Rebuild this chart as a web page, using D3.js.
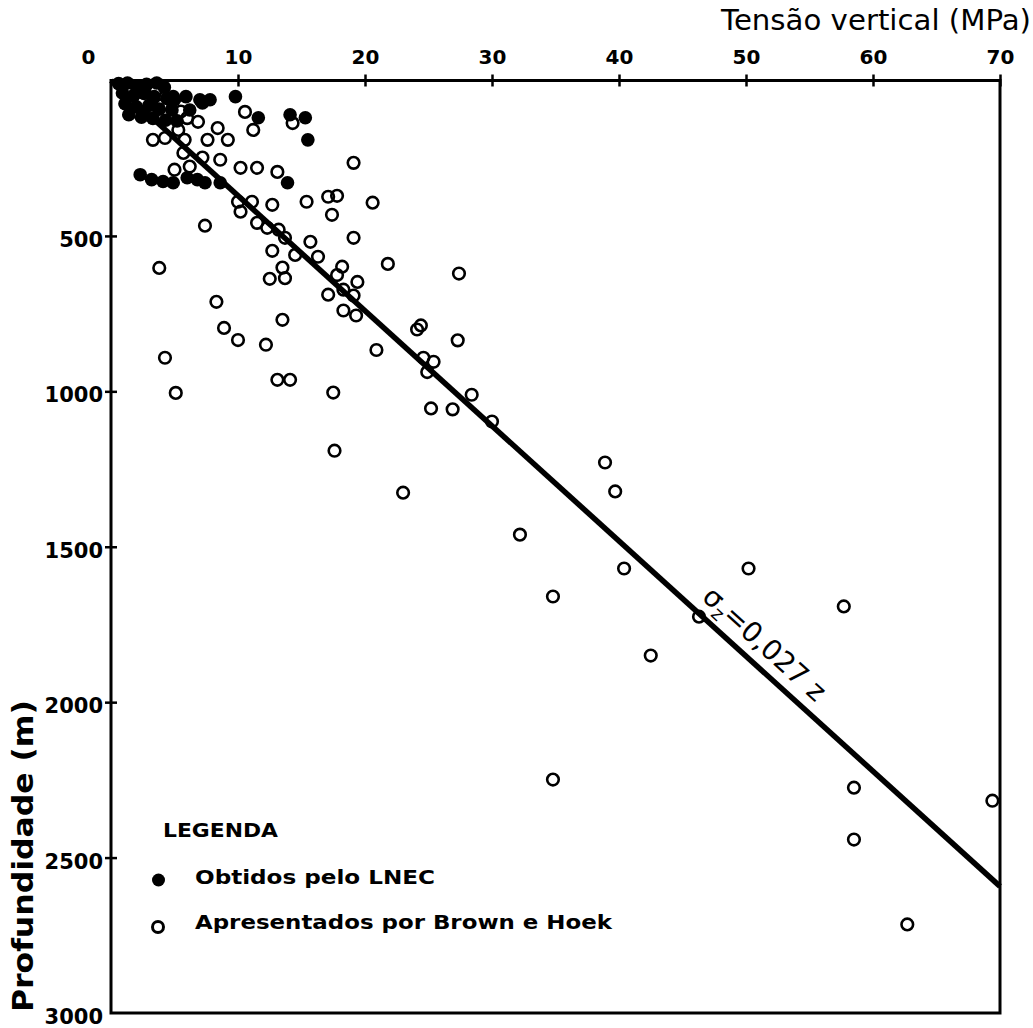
<html>
<head>
<meta charset="utf-8">
<style>
    body { margin: 0; background: #fff; }
    text { font-family: "DejaVu Sans", sans-serif; fill: #000; }
</style>
</head>
<body>
<svg id="container" width="1033" height="1028"></svg>
<script src="https://cdn.jsdelivr.net/npm/d3@7"></script>
<script>
// tick values of the two axes
const xTicks = [0, 10, 20, 30, 40, 50, 60, 70]
const yTicks = [500, 1000, 1500, 2000, 2500, 3000]

// [tensao (MPa), profundidade (m)]
const lnec = [
    [0.6, 10], [1.3, 8], [2.0, 20], [2.8, 12], [3.6, 8], [4.2, 22],
    [0.9, 40], [1.8, 48], [2.6, 42], [3.4, 52], [4.4, 58], [4.9, 52], [5.9, 52],
    [1.1, 75], [2.0, 85], [3.0, 80], [3.8, 92], [4.8, 95], [5.0, 62],
    [1.4, 110], [2.4, 118], [3.3, 122], [4.3, 128], [5.2, 130],
    [7.0, 62], [7.8, 62], [7.2, 72], [6.2, 95], [9.8, 52],
    [11.6, 120], [14.1, 110], [15.3, 120], [15.5, 191], [13.9, 329],
    [2.3, 303], [3.2, 319], [4.1, 325], [4.9, 329], [6.0, 313], [6.8, 319], [7.4, 329], [8.6, 329]
]

const brownHoek = [
    [1.5, 30], [2.5, 65], [3.5, 35], [1.8, 100], [3.0, 110], [4.0, 80], [5.5, 100],
    [10.55, 101], [11.2, 159], [14.3, 137], [6.85, 133], [6.0, 121], [8.4, 153],
    [7.6, 191], [9.2, 191], [3.3, 191], [4.25, 185], [5.3, 159], [5.8, 191],
    [5.7, 233], [7.2, 248], [8.6, 255], [10.2, 281], [11.5, 281], [13.1, 294],
    [5.0, 287], [6.2, 277], [19.1, 265], [15.4, 390], [17.1, 374], [17.8, 371],
    [17.4, 432], [20.6, 393], [10.0, 390], [11.1, 390], [10.2, 422], [12.7, 400],
    [11.5, 458], [12.3, 474], [13.2, 480], [13.7, 506], [7.4, 467], [15.7, 519],
    [19.1, 506], [12.7, 548], [14.5, 561], [16.3, 567], [21.8, 590], [18.2, 599],
    [13.5, 602], [12.5, 638], [13.7, 636], [17.8, 626], [19.4, 648], [18.3, 673],
    [17.1, 689], [19.1, 692], [18.3, 740], [19.3, 756],
    [3.8, 603], [4.25, 892], [5.1, 1005], [8.3, 712], [8.9, 796], [10.0, 835],
    [12.2, 850], [13.1, 963], [14.1, 963], [13.5, 770], [17.5, 1004], [17.6, 1191],
    [20.9, 867], [23.0, 1326], [24.4, 788], [24.1, 801], [24.6, 892], [25.4, 905],
    [24.9, 938], [25.2, 1055], [26.9, 1058], [27.3, 836], [27.4, 621], [28.4, 1011],
    [30.0, 1097], [32.2, 1461], [34.8, 1660], [34.8, 2249], [38.9, 1229], [39.7, 1322],
    [40.4, 1570], [42.5, 1850], [46.3, 1725], [50.2, 1570], [57.7, 1692], [58.5, 2275],
    [58.5, 2442], [62.7, 2715], [69.4, 2317]
]

// sigma_z = 0,027 z
const gradient = 0.027

let svg = d3.select("#container")

let x = d3.scaleLinear().domain([0, 70]).range([111, 1000])
let y = d3.scaleLinear().domain([0, 3000]).range([80.5, 1013])

// frame
svg.append("rect")
    .attr("x", x(0)).attr("y", y(0))
    .attr("width", x(70) - x(0)).attr("height", y(3000) - y(0))
    .attr("fill", "none").attr("stroke", "#000").attr("stroke-width", 3)

// top axis
let xAxis = svg.append("g")
    .attr("transform", "translate(0," + y(0) + ")")
    .call(d3.axisTop(x).tickValues(xTicks).tickFormat(d3.format("d")).tickSize(6).tickPadding(11))
xAxis.select(".domain").remove()
xAxis.selectAll(".tick line").attr("y1", 6).attr("stroke-width", 2.5)
    .filter(d => d == 0).remove()
xAxis.selectAll(".tick text")
    .style("font-size", "20px").style("font-weight", "bold").style("font-family", "DejaVu Sans")
    .filter(d => d == 0).attr("x", -23)

// left axis
let yAxis = svg.append("g")
    .attr("transform", "translate(" + x(0) + ",0)")
    .call(d3.axisLeft(y).tickValues(yTicks).tickFormat(d3.format("d")).tickSize(6).tickPadding(2))
yAxis.select(".domain").remove()
yAxis.selectAll(".tick line").attr("x1", 6).attr("stroke-width", 2.5)
    .filter(d => d == 3000).remove()
yAxis.selectAll(".tick text")
    .style("font-size", "21px").style("font-weight", "bold").style("font-family", "DejaVu Sans")
    .attr("dy", "0.5em")

// axis titles
svg.append("text")
    .attr("x", 1031).attr("y", 30)
    .attr("text-anchor", "end")
    .style("font-size", "29px")
    .attr("textLength", 310).attr("lengthAdjust", "spacingAndGlyphs")
    .text("Tensão vertical (MPa)")

svg.append("text")
    .attr("transform", "translate(33,856) rotate(-90)")
    .attr("text-anchor", "middle")
    .style("font-size", "29px").style("font-weight", "bold")
    .attr("textLength", 312).attr("lengthAdjust", "spacingAndGlyphs")
    .text("Profundidade (m)")

// trend line
let zEnd = 70 / gradient
let valueline = d3.line().x(d => x(d[0])).y(d => y(d[1]))
svg.append("path")
    .datum([[0, 0], [70, zEnd]])
    .attr("d", valueline)
    .attr("fill", "none").attr("stroke", "#000").attr("stroke-width", 5.5)

// points
svg.append("g").selectAll("circle")
    .data(brownHoek).join("circle")
    .attr("cx", d => x(d[0])).attr("cy", d => y(d[1]))
    .attr("r", 5.8)
    .attr("fill", "none").attr("stroke", "#000").attr("stroke-width", 2.6)

svg.append("g").selectAll("circle")
    .data(lnec).join("circle")
    .attr("cx", d => x(d[0])).attr("cy", d => y(d[1]))
    .attr("r", 6.8)
    .attr("fill", "#000")

// label along the line
let angle = Math.atan2(y(zEnd) - y(0), x(70) - x(0)) * 180 / Math.PI
let rad = angle * Math.PI / 180
let lx = x(45.8) + 12 * Math.sin(rad)
let ly = y(45.8 / gradient) - 12 * Math.cos(rad)
let eq = svg.append("text")
    .attr("transform", "translate(" + lx + "," + ly + ") rotate(" + angle + ")")
    .style("font-size", "28px")
eq.append("tspan").text("σ")
eq.append("tspan").style("font-size", "19px").attr("dy", 6).text("z")
eq.append("tspan").attr("dy", -6).text("=0,027 z")

// legend
svg.append("text")
    .attr("x", 163).attr("y", 837)
    .style("font-size", "19px").style("font-weight", "bold")
    .attr("textLength", 115).attr("lengthAdjust", "spacingAndGlyphs")
    .text("LEGENDA")

svg.append("circle").attr("cx", 158.5).attr("cy", 880).attr("r", 6.5).attr("fill", "#000")
svg.append("text")
    .attr("x", 195).attr("y", 884)
    .style("font-size", "20px").style("font-weight", "bold")
    .attr("textLength", 240).attr("lengthAdjust", "spacingAndGlyphs")
    .text("Obtidos pelo LNEC")

svg.append("circle").attr("cx", 158).attr("cy", 927).attr("r", 5.5)
    .attr("fill", "none").attr("stroke", "#000").attr("stroke-width", 3)
svg.append("text")
    .attr("x", 195).attr("y", 929)
    .style("font-size", "20px").style("font-weight", "bold")
    .attr("textLength", 417).attr("lengthAdjust", "spacingAndGlyphs")
    .text("Apresentados por Brown e Hoek")
</script>
</body>
</html>
